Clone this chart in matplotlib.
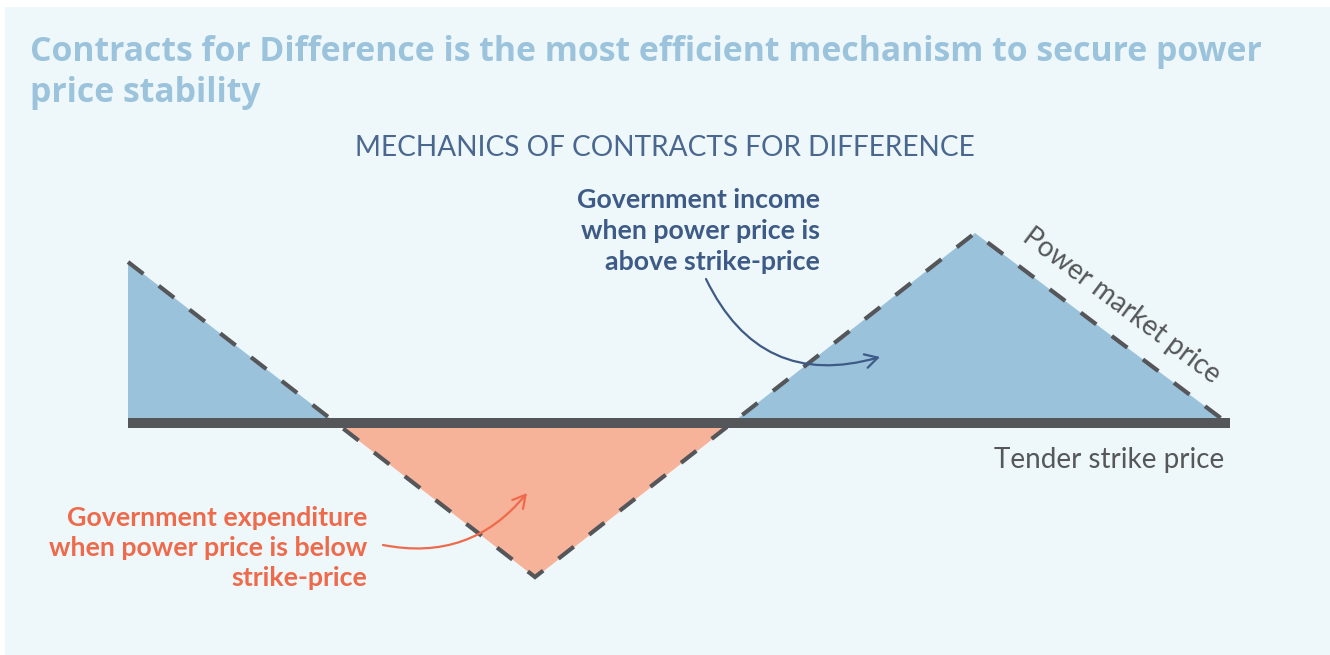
import numpy as np
import matplotlib.pyplot as plt
from matplotlib.patches import Rectangle

# chart data (price relative to the tender strike price)
time = [128, 535, 975, 1222]
market_price = [161, -154, 190, 4]
strike_price = 0
strike_start, strike_end = 128, 1230

title = "Contracts for Difference is the most efficient mechanism to secure power\nprice stability"
subtitle = "MECHANICS OF CONTRACTS FOR DIFFERENCE"
income_label = "Government income\nwhen power price is\nabove strike-price"
expense_label = "Government expenditure\nwhen power price is below\nstrike-price"

W, H = 1330, 655
fig = plt.figure(figsize=(W / 100, H / 100), dpi=100)
fig.patch.set_facecolor('white')
fig.patches.append(Rectangle((5 / W, 0), 1, 1 - 7 / H, transform=fig.transFigure,
                             facecolor='#eef7fa', edgecolor='none', zorder=-5))

ax = fig.add_axes([0, 0, 1, 1])
ax.set_xlim(0, W)
ax.set_ylim(423 - H, 423)
ax.axis('off')

# fine grid for interpolated fills
t = np.linspace(time[0], time[-1], 2000)
p = np.interp(t, time, market_price)
ax.fill_between(t, strike_price, p, where=p >= strike_price, interpolate=True,
                color='#9bc2db', linewidth=0, zorder=1)
ax.fill_between(t, strike_price, p, where=p < strike_price, interpolate=True,
                color='#f7b29a', linewidth=0, zorder=1)

plt.rcParams['lines.scale_dashes'] = False
ax.plot(time, market_price, color='#545659', linewidth=3.0, dashes=(14, 14),
        solid_joinstyle='miter', dash_joinstyle='miter', dash_capstyle='butt', zorder=2)
ax.plot([strike_start, strike_end], [strike_price, strike_price], color='#545659',
        linewidth=7.2, solid_capstyle='butt', zorder=3)

def fx(x):
    return x / W

def fy(y):
    return 1 - y / H

fig.text(fx(30), fy(102), title, fontsize=24.3, fontweight='bold', color='#9cc3dc',
         family='Open Sans', ha='left', va='baseline', linespacing=1.28)
fig.text(fx(665), fy(148), subtitle, fontsize=20.2, color='#4a6790', family='Lato',
         ha='center', va='center')

fig.text(fx(820), fy(231), income_label, fontsize=19.3, fontweight='bold', color='#3d5b86',
         family='Lato', ha='right', va='center', linespacing=1.33, multialignment='right')
fig.text(fx(367), fy(548), expense_label, fontsize=19.3, fontweight='bold', color='#ee6a4b',
         family='Lato', ha='right', va='center', linespacing=1.3, multialignment='right')

fig.text(fx(1109), fy(460), "Tender strike price", fontsize=20, color='#555759',
         family='Lato', ha='center', va='center')
fig.text(fx(1122), fy(306), "Power market price", fontsize=20, color='#555759',
         family='Lato', ha='center', va='center', rotation=-37, rotation_mode='anchor')

# arrows
ax.annotate('', xy=(880, 423 - 357), xytext=(706, 423 - 279),
            arrowprops=dict(arrowstyle='->,head_length=0.9,head_width=0.5', color='#3d5b86',
                            linewidth=1.6, connectionstyle='arc3,rad=0.42',
                            shrinkA=0, shrinkB=0))
ax.annotate('', xy=(527, 423 - 493), xytext=(383, 423 - 545),
            arrowprops=dict(arrowstyle='->,head_length=0.9,head_width=0.5', color='#ee6a4b',
                            linewidth=1.6, connectionstyle='arc3,rad=0.3',
                            shrinkA=0, shrinkB=0))

fig.savefig('out.png', dpi=100, facecolor=fig.get_facecolor())
